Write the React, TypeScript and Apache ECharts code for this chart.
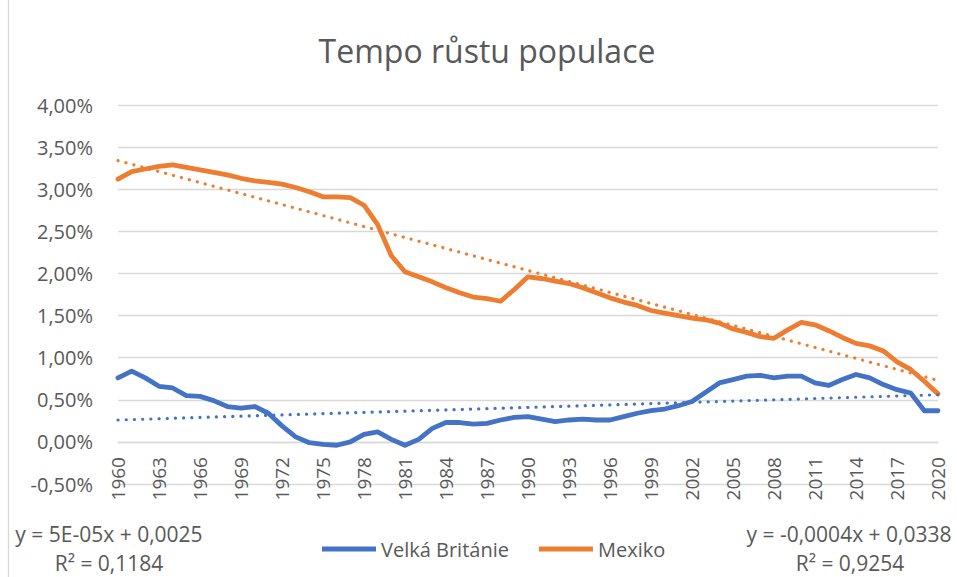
import React, { useEffect, useRef } from "react";
import * as echarts from "echarts";

const years: string[] = Array.from({ length: 61 }, (_, i) => String(1960 + i));

const ukValues = [
  0.76, 0.84, 0.76, 0.66, 0.64, 0.55, 0.54, 0.49, 0.42, 0.40,
  0.42, 0.34, 0.19, 0.06, -0.01, -0.03, -0.04, 0.00, 0.09, 0.12,
  0.03, -0.04, 0.03, 0.16, 0.23, 0.23, 0.21, 0.22, 0.26, 0.29,
  0.30, 0.27, 0.24, 0.26, 0.27, 0.26, 0.26, 0.30, 0.34, 0.37,
  0.39, 0.43, 0.48, 0.59, 0.70, 0.74, 0.78, 0.79, 0.76, 0.78,
  0.78, 0.70, 0.67, 0.74, 0.80, 0.76, 0.68, 0.62, 0.58, 0.37, 0.37,
];

const mxValues = [
  3.12, 3.21, 3.24, 3.27, 3.29, 3.26, 3.23, 3.20, 3.17, 3.13,
  3.10, 3.08, 3.06, 3.02, 2.97, 2.91, 2.91, 2.90, 2.81, 2.58,
  2.21, 2.02, 1.96, 1.90, 1.83, 1.77, 1.72, 1.70, 1.67, 1.81,
  1.96, 1.94, 1.91, 1.88, 1.83, 1.77, 1.71, 1.66, 1.62, 1.56,
  1.53, 1.50, 1.47, 1.45, 1.41, 1.34, 1.30, 1.25, 1.23, 1.33,
  1.42, 1.39, 1.32, 1.24, 1.17, 1.14, 1.08, 0.95, 0.86, 0.72, 0.57,
];

// trendline endpoints (1960, 2020)
const ukTrend = [0.26, 0.56];
const mxTrend = [3.34, 0.73];

const seriesNames = ["Velká Británie", "Mexiko"];
const ukEquation = ["y = 5E-05x + 0,0025", "R² = 0,1184"];
const mxEquation = ["y = -0,0004x + 0,0338", "R² = 0,9254"];
const chartTitle = "Tempo růstu populace";

const BLUE = "#4472C4";
const ORANGE = "#ED7D31";
const TEXT = "#595959";
const GRID = "#D9D9D9";
const FONT = "'Open Sans', 'Noto Sans', sans-serif";

function trendData(ends: number[]) {
  return years.map((_, i) => (i === 0 ? ends[0] : i === years.length - 1 ? ends[1] : null));
}

export default function App() {
  const ref = useRef<HTMLDivElement>(null);
  useEffect(() => {
    if (!ref.current) return;
    const chart = echarts.init(ref.current, undefined, { renderer: "svg" });
    const dotted = { width: 3.2, type: [0.1, 8.1] as any, cap: "round" as any };
    const eq = (x: number, y: number, text: string, size: number) => ({
      type: "text",
      x,
      y,
      style: { text, fill: TEXT, fontSize: size, fontFamily: FONT, textAlign: "center", textVerticalAlign: "middle" },
    });
    chart.setOption({
      animation: false,
      backgroundColor: "#ffffff",
      textStyle: { fontFamily: FONT },
      grid: { left: 118, right: 19, top: 105, bottom: 93, containLabel: false },
      xAxis: {
        type: "category",
        data: years,
        boundaryGap: false,
        offset: -42,
        axisLine: { show: true, onZero: false, lineStyle: { color: GRID, width: 1.3 } },
        axisTick: { show: false },
        splitLine: { show: false },
        axisLabel: {
          interval: 2,
          rotate: 90,
          margin: 15,
          color: TEXT,
          fontSize: 19,
          fontFamily: FONT,
        },
      },
      yAxis: {
        type: "value",
        min: -0.5,
        max: 4,
        interval: 0.5,
        axisLine: { show: false },
        axisTick: { show: false },
        splitLine: { show: true, lineStyle: { color: GRID, width: 1.3 } },
        axisLabel: {
          margin: 25,
          color: TEXT,
          fontSize: 20,
          fontFamily: FONT,
          formatter: (v: number) => v.toFixed(2).replace(".", ",") + "%",
        },
      },
      legend: {
        data: seriesNames.map((n) => ({ name: n, icon: "rect" })),
        left: 317,
        top: 534,
        itemWidth: 54,
        itemHeight: 5,
        itemGap: 30,
        textStyle: { color: TEXT, fontSize: 20, fontFamily: FONT },
      },
      series: [
        {
          name: seriesNames[0],
          type: "line",
          data: ukValues,
          showSymbol: false,
          symbol: "none",
          itemStyle: { color: BLUE },
          lineStyle: { color: BLUE, width: 4.8, cap: "round", join: "round" },
          z: 2,
        },
        {
          name: seriesNames[1],
          type: "line",
          data: mxValues,
          showSymbol: false,
          symbol: "none",
          itemStyle: { color: ORANGE },
          lineStyle: { color: ORANGE, width: 4.8, cap: "round", join: "round" },
          z: 2,
        },
        {
          name: "trendUK",
          type: "line",
          data: trendData(ukTrend),
          connectNulls: true,
          showSymbol: false,
          symbol: "none",
          lineStyle: { color: BLUE, ...dotted },
          z: 3,
        },
        {
          name: "trendMX",
          type: "line",
          data: trendData(mxTrend),
          connectNulls: true,
          showSymbol: false,
          symbol: "none",
          lineStyle: { color: ORANGE, ...dotted },
          z: 3,
        },
      ],
      graphic: [
        {
          type: "line",
          shape: { x1: 8.5, y1: 0, x2: 8.5, y2: 577 },
          style: { stroke: GRID, lineWidth: 1.3 },
        },
        {
          type: "text",
          x: 487,
          y: 50,
          style: {
            text: chartTitle,
            fill: TEXT,
            fontSize: 32,
            fontFamily: FONT,
            textAlign: "center",
            textVerticalAlign: "middle",
          },
        },
        eq(109, 534, ukEquation[0], 21),
        eq(109, 563, ukEquation[1], 21),
        eq(849, 534, mxEquation[0], 21),
        eq(850, 563, mxEquation[1], 21),
      ],
    });
    return () => chart.dispose();
  }, []);
  return (
    <div
      ref={ref}
      style={{ position: "fixed", left: 0, top: 0, width: 957, height: 577 }}
    />
  );
}
